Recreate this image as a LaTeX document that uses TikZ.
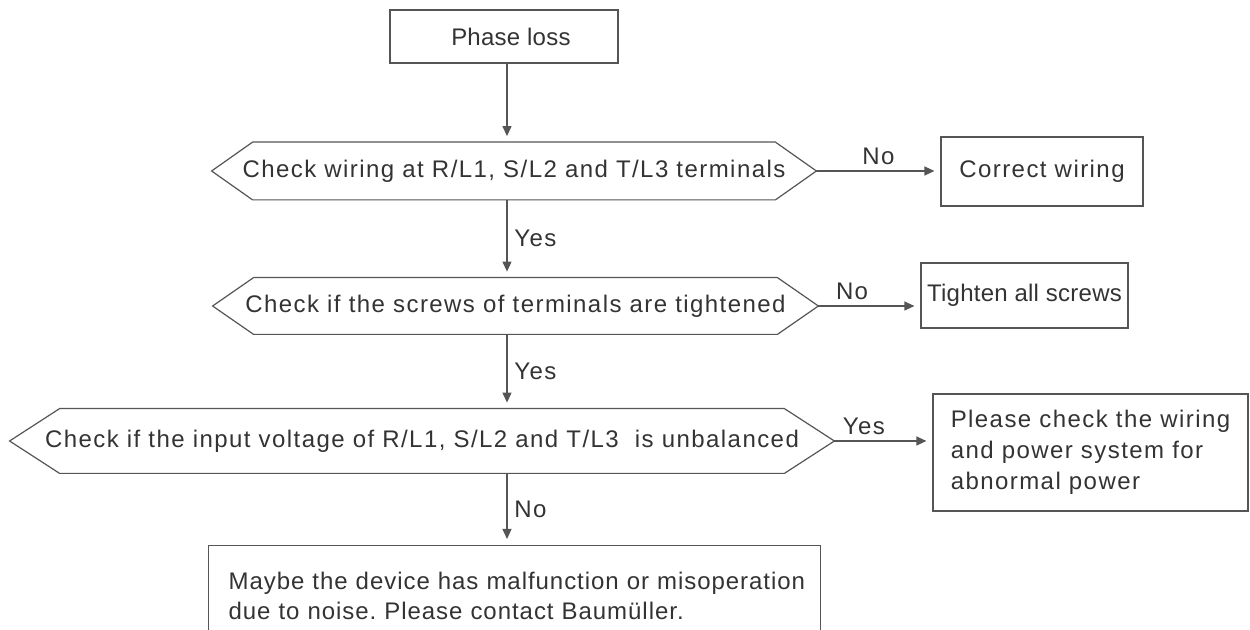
\documentclass[tikz,border=0pt]{standalone}
\usepackage{fontspec}
\setmainfont[LetterSpace=6]{Liberation Sans}
\newfontfamily\tightfont[LetterSpace=1]{Liberation Sans}
\newfontfamily\notefont[LetterSpace=4]{Liberation Sans}
\usetikzlibrary{arrows.meta}
\definecolor{linegray}{HTML}{555555}
\definecolor{textgray}{HTML}{333333}
\frenchspacing

\begin{document}
\begin{tikzpicture}[x=0.5pt,y=-0.5pt,
	every node/.style={font=\fontsize{12}{15.5}\selectfont, text=textgray},
	line/.style={draw=linegray, line width=0.6pt},
	box/.style={line, rectangle, inner sep=0pt},
	check/.style={rectangle, inner sep=0pt},
	arr/.style={line, shorten >=3pt, -{Triangle[length=5pt,width=4.5pt]}}]
\clip (0,0) rectangle (1250,630);
\useasboundingbox (0,0) rectangle (1250,630);

\coordinate (spine) at (507,0);

\node [box, minimum width=114pt, minimum height=26.5pt, font=\tightfont\fontsize{12}{15.5}\selectfont] (phase) at (504,36.5) {\ \ Phase loss};

\node [check, minimum width=302pt, minimum height=28.5pt] (d1) at (514,171) {Check wiring at R/L1, S/L2 and T/L3 terminals};
\node [check, minimum width=302.5pt, minimum height=28pt] (d2) at (515.5,306) {Check if the screws of terminals are tightened};
\node [check, minimum width=412pt, minimum height=32pt] (d3) at (422,441) {Check if the input voltage of R/L1, S/L2 and T/L3\ \ is unbalanced};

\foreach \n/\w in {d1/20.5, d2/20.5, d3/25}
	\draw [line] (\n.west) -- ([xshift=\w pt]\n.north west) -- ([xshift=-\w pt]\n.north east) -- (\n.east)
		-- ([xshift=-\w pt]\n.south east) -- ([xshift=\w pt]\n.south west) -- cycle;

\node [box, minimum width=101pt, minimum height=34.5pt] (correct) at (1042,171.5) {Correct wiring};
\node [box, minimum width=103.5pt, minimum height=32.5pt, font=\tightfont\fontsize{12}{15.5}\selectfont] (tighten) at (1024.5,295.5) {Tighten all screws};
\node [box, minimum width=157.5pt, minimum height=58.5pt, align=left] (please) at (1090.5,452.5) {Please check the wiring\\and power system for\\abnormal power};
\node [box, anchor=north west, text width=286pt, inner xsep=10pt, inner ysep=13.5pt, align=left, font=\notefont\fontsize{12}{15}\selectfont] (maybe) at (208,545) {Maybe the device has malfunction or misoperation\\due to noise. Please contact Baumüller.};

\draw [arr] (phase.south -| spine) -- (d1.north -| spine);
\foreach \a/\b/\t in {d1/d2/Yes, d2/d3/Yes, d3/maybe/No}
	\draw [arr] (\a.south -| spine) -- node [right] {\t} (\b.north -| spine);

\foreach \a/\b/\t/\p in {d1/correct/No/0.5, d2/tighten/No/0.33, d3/please/Yes/0.3}
	\draw [arr] (\a.east) -- node [above, pos=\p, inner sep=3pt] {\t} (\a.east -| \b.west);

\end{tikzpicture}
\end{document}
